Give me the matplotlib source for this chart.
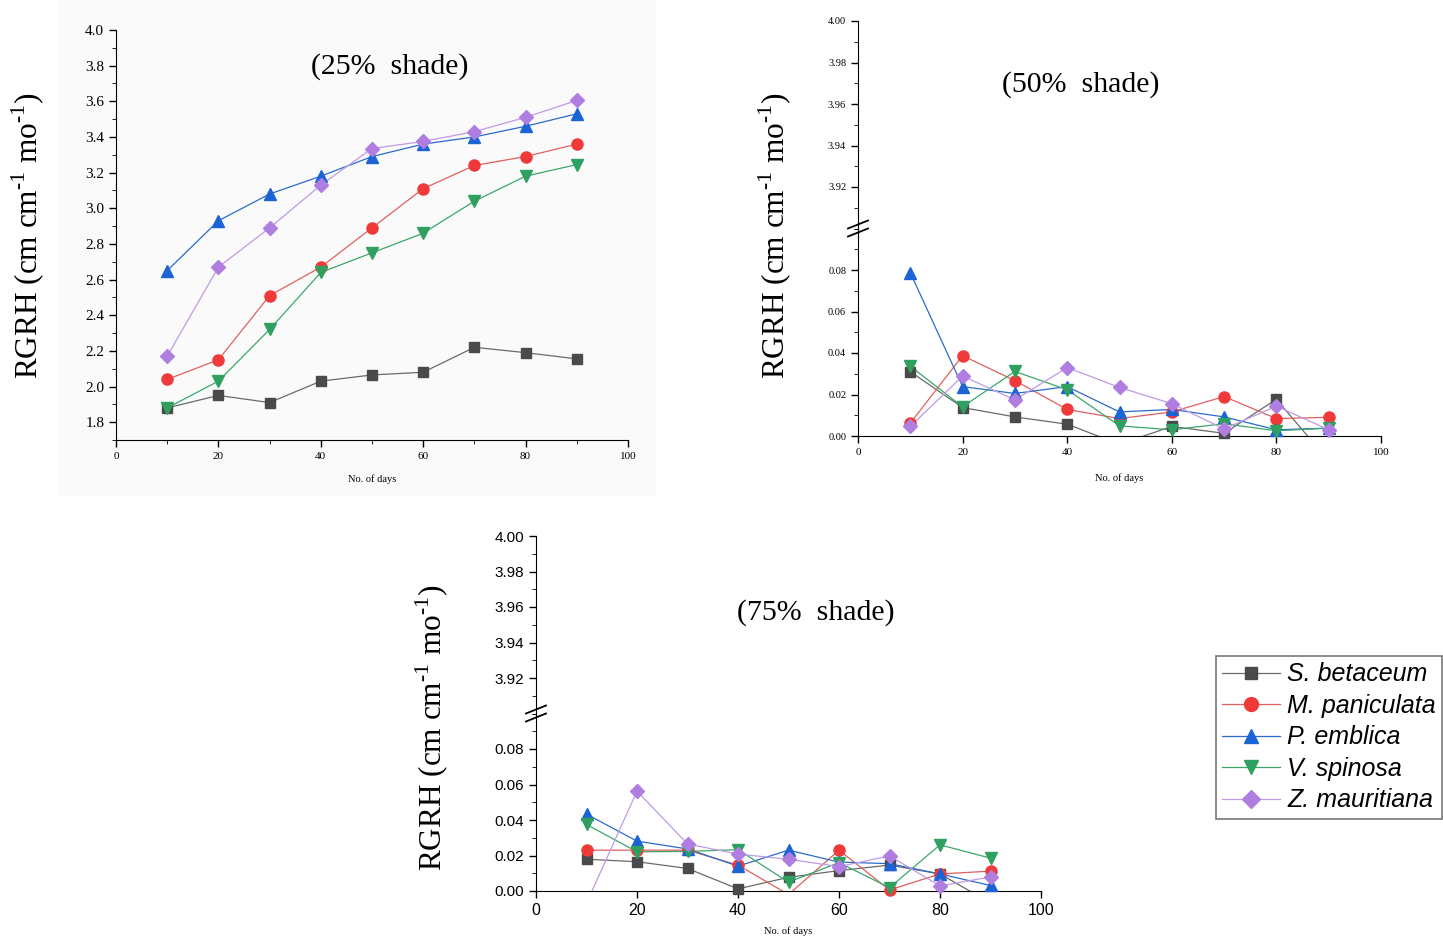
import numpy as np
import matplotlib
matplotlib.use("Agg")
import matplotlib.pyplot as plt
from matplotlib.lines import Line2D
from matplotlib.patches import Rectangle
from matplotlib.ticker import MultipleLocator, FormatStrFormatter

plt.rcParams["mathtext.fontset"] = "custom"
plt.rcParams["mathtext.rm"] = "Liberation Serif"

# datos
dias = [10, 20, 30, 40, 50, 60, 70, 80, 90]
especies = ["S. betaceum", "M. paniculata", "P. emblica", "V. spinosa", "Z. mauritiana"]

# 25% sombra
s25_betaceum = [1.88, 1.95, 1.91, 2.03, 2.065, 2.08, 2.22, 2.19, 2.155]
s25_paniculata = [2.04, 2.15, 2.51, 2.67, 2.89, 3.11, 3.24, 3.29, 3.36]
s25_emblica = [2.65, 2.93, 3.08, 3.18, 3.29, 3.36, 3.40, 3.46, 3.53]
s25_spinosa = [1.88, 2.03, 2.32, 2.64, 2.75, 2.86, 3.04, 3.18, 3.245]
s25_mauritiana = [2.17, 2.67, 2.89, 3.13, 3.335, 3.375, 3.43, 3.51, 3.605]

# 50% sombra
s50_betaceum = [0.031, 0.0137, 0.0092, 0.0057, -0.004, 0.0046, 0.0013, 0.0177, -0.012]
s50_paniculata = [0.0062, 0.0387, 0.0267, 0.0128, 0.0084, 0.0116, 0.019, 0.0084, 0.009]
s50_emblica = [0.0787, 0.0238, 0.0205, 0.0238, 0.0116, 0.0128, 0.0092, 0.003, 0.0038]
s50_spinosa = [0.0336, 0.0141, 0.0311, 0.0223, 0.0049, 0.003, 0.0059, 0.0025, 0.0038]
s50_mauritiana = [0.0046, 0.0289, 0.0174, 0.033, 0.0234, 0.0156, 0.0034, 0.0144, 0.003]

# 75% sombra
s75_betaceum = [0.0179, 0.0165, 0.0127, 0.0012, 0.0077, 0.0115, 0.0146, 0.0096, -0.0067]
s75_paniculata = [0.023, 0.023, 0.023, 0.0146, -0.002, 0.023, 0.0006, 0.0096, 0.0112]
s75_emblica = [0.0433, 0.0281, 0.0237, 0.014, 0.023, 0.0163, 0.0154, 0.0096, 0.0031]
s75_spinosa = [0.0375, 0.0221, 0.0223, 0.0233, 0.005, 0.016, 0.0019, 0.026, 0.0185]
s75_mauritiana = [-0.0069, 0.0563, 0.0265, 0.0208, 0.0179, 0.0137, 0.0198, 0.0029, 0.0079]

colores = ["#4a4a4a", "#f03a3a", "#1c64d6", "#2fa060", "#b07ee0"]
colores_linea = ["#6a6a6a", "#e06060", "#2a6ccc", "#3aa86a", "#c09ae6"]
marcadores = ["s", "o", "^", "v", "D"]
tam_marc = [7, 8, 8.5, 8.5, 7]

ylab = r"RGRH (cm cm$^{\text{-1}}$ mo$^{\text{-1}}$)"

W, H = 1443, 941
fig = plt.figure(figsize=(W / 100, H / 100), dpi=100)


def rect(x0, x1, y0, y1):
    return [x0 / W, 1 - y1 / H, (x1 - x0) / W, (y1 - y0) / H]


def dibujar(ax, series, recortar=False):
    for i, v in enumerate(series):
        v = np.array(v, dtype=float)
        ax.plot(dias, v, "-", color=colores_linea[i], lw=0.9, zorder=2)
        if recortar:
            vis = np.where(v >= 0, v, np.nan)
            ax.plot(dias, vis, ls="none", marker=marcadores[i], ms=tam_marc[i],
                    color=colores[i], clip_on=False, zorder=3)
        else:
            ax.plot(dias, v, ls="none", marker=marcadores[i], ms=tam_marc[i],
                    color=colores[i], zorder=3)


# fondo muy tenue del primer panel
fondo = Rectangle((58 / W, 1 - 495 / H), (655 - 58) / W, 495 / H,
                  transform=fig.transFigure, color="#fafafa", zorder=-5)
fig.add_artist(fondo)

# ---- panel 25% ----
serif = "Liberation Serif"
ax1 = fig.add_axes(rect(116, 628, 30, 440))
ax1.patch.set_alpha(0)
dibujar(ax1, [s25_betaceum, s25_paniculata, s25_emblica, s25_spinosa, s25_mauritiana])
ax1.set_xlim(0, 100)
ax1.set_ylim(1.7, 4.0)
ax1.set_yticks(np.arange(1.8, 4.01, 0.2))
ax1.yaxis.set_major_formatter(FormatStrFormatter("%.1f"))
ax1.yaxis.set_minor_locator(MultipleLocator(0.1))
ax1.xaxis.set_major_locator(MultipleLocator(20))
ax1.xaxis.set_minor_locator(MultipleLocator(10))
ax1.spines[["top", "right"]].set_visible(False)
ax1.tick_params(axis="y", labelsize=11, length=5, width=1)
ax1.tick_params(axis="x", labelsize=8, length=5, width=1)
ax1.tick_params(which="minor", length=3)
for t in ax1.get_xticklabels() + ax1.get_yticklabels():
    t.set_fontfamily(serif)
ax1.set_xlabel("No. of days", fontsize=7.5, fontfamily=serif, labelpad=10)
fig.text(28 / W, 1 - 236 / H, ylab, rotation=90,
         ha="center", va="center", fontsize=22.5, fontfamily=serif)
fig.text(390 / W, 1 - 67 / H, "(25%  shade)", ha="center", va="center",
         fontsize=21.5, fontfamily=serif)


# ---- paneles con eje cortado ----
def panel_cortado(x0, x1, y0, y1, series, fuente, ytam, xtam, et_x, ylab_xy, titulo, tit_xy):
    ymed = (y0 + y1) / 2
    arr = fig.add_axes(rect(x0, x1, y0, ymed))
    aba = fig.add_axes(rect(x0, x1, ymed, y1))
    for ax in (arr, aba):
        ax.patch.set_alpha(0)
        ax.spines[["top", "right"]].set_visible(False)
        ax.set_xlim(0, 100)
        ax.yaxis.set_minor_locator(MultipleLocator(0.01))
        ax.tick_params(axis="y", labelsize=ytam, length=5, width=1)
        ax.tick_params(which="minor", length=3)
    arr.spines["bottom"].set_visible(False)
    arr.tick_params(axis="x", which="both", bottom=False, labelbottom=False)
    arr.set_ylim(3.90, 4.00)
    arr.set_yticks([3.92, 3.94, 3.96, 3.98, 4.00])
    aba.set_ylim(0, 0.10)
    aba.set_yticks([0.00, 0.02, 0.04, 0.06, 0.08])
    arr.yaxis.set_major_formatter(FormatStrFormatter("%.2f"))
    aba.yaxis.set_major_formatter(FormatStrFormatter("%.2f"))
    aba.xaxis.set_major_locator(MultipleLocator(20))
    aba.tick_params(axis="x", labelsize=xtam, length=5, width=1)
    aba.tick_params(axis="x", which="minor", bottom=False)
    dibujar(aba, series, recortar=True)
    for ax in (arr, aba):
        for t in ax.get_xticklabels() + ax.get_yticklabels():
            t.set_fontfamily(fuente)
    aba.set_xlabel("No. of days", fontsize=7.5, fontfamily=serif, labelpad=et_x)
    # marca de corte
    for d in (-4, 4):
        fig.add_artist(Line2D([(x0 - 10) / W, (x0 + 10) / W],
                              [1 - (ymed + d + 4) / H, 1 - (ymed + d - 4) / H],
                              transform=fig.transFigure, color="black", lw=1.3))
    fig.text(ylab_xy[0] / W, 1 - ylab_xy[1] / H, ylab,
             rotation=90, ha="center", va="center", fontsize=22.5, fontfamily=serif)
    fig.text(tit_xy[0] / W, 1 - tit_xy[1] / H, titulo, ha="center", va="center",
             fontsize=21.5, fontfamily=serif)


panel_cortado(858, 1381, 21, 436,
              [s50_betaceum, s50_paniculata, s50_emblica, s50_spinosa, s50_mauritiana],
              serif, 7.5, 8, 12, (775, 236), "(50%  shade)", (1081, 85))
panel_cortado(536, 1041, 536, 891,
              [s75_betaceum, s75_paniculata, s75_emblica, s75_spinosa, s75_mauritiana],
              "Liberation Sans", 11, 11.5, 6, (432, 728), "(75%  shade)", (816, 613))

# leyenda
manijas = [Line2D([], [], color=colores_linea[i], lw=0.9, marker=marcadores[i],
                  ms=tam_marc[i] + 2, mfc=colores[i], mec=colores[i]) for i in range(5)]
leg = fig.legend(manijas, especies, loc="upper left",
                 bbox_to_anchor=(1216 / W, 1 - 656 / H), frameon=True, fancybox=False,
                 prop={"family": "Liberation Sans", "style": "italic", "size": 18},
                 handlelength=2.3, handletextpad=0.3, labelspacing=0.3,
                 borderpad=0.25, borderaxespad=0)
leg.get_frame().set_edgecolor("#555555")
leg.get_frame().set_linewidth(1.2)

fig.savefig("out.png", dpi=100)
